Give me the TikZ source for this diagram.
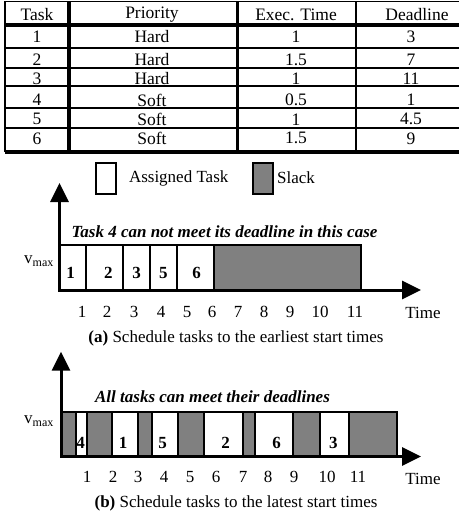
\documentclass[tikz,border=0pt]{standalone}
\usepackage{fontspec}
\setmainfont{Liberation Serif}
\usetikzlibrary{arrows.meta}
\definecolor{slackgray}{RGB}{128,128,128}
\begin{document}
\begin{tikzpicture}[x=1pt,y=-1pt,
  every node/.style={inner sep=0pt, font=\fontsize{17}{20}\selectfont},
  tline/.style={line width=2.2pt},
  tthick/.style={line width=3.8pt},
  taskbox/.style={draw=black, fill=white, line width=2pt},
  slackbox/.style={draw=black, fill=slackgray, line width=2pt},
  axes/.style={line width=3pt, {Triangle[width=18pt,length=19pt]}-{Triangle[width=18pt,length=19pt]}},
  num/.style={font=\fontsize{17}{20}\selectfont\bfseries},
  cell/.style={font=\fontsize{17.5}{20}\selectfont},
  note/.style={font=\fontsize{17}{20}\selectfont\bfseries\itshape},
]
\useasboundingbox (0,0) rectangle (458,514);

% ---------------- table ----------------
\draw[line width=1.6pt] (460,1.5) -- (5,1.5) -- (5,152);
\draw[tthick] (5,24.7) -- (460,24.7);
\foreach \yy in {47.8,68,86,107.8,128.3} \draw[tline] (5,\yy) -- (460,\yy);
\draw[tthick] (5,152) -- (460,152);
\draw[tthick] (68.7,1.5) -- (68.7,152);
\draw[tthick] (237.5,1.5) -- (237.5,152);
\draw[line width=2.5pt] (356,1.5) -- (356,152);

\node[cell] (h1) at (37,15) {Task};
\node[cell] (h2) at (152,15) {Priority};
\node[cell] (h3) at (296,15) {Exec. Time};
\node[cell] (h4) at (417,15) {Deadline};
\foreach \t/\p/\e/\d/\yy in {1/Hard/1/3/37, 2/Hard/1.5/7/59.5, 3/Hard/1/11/78.3, 4/Soft/0.5/1/100, 5/Soft/1/4.5/119.3, 6/Soft/1.5/9/138.3}{
  \node[cell] (r\t a) at (37,\yy) {\t};
  \node[cell] (r\t b) at (152,\yy) {\p};
  \node[cell] (r\t c) at (296,\yy) {\e};
  \node[cell] (r\t d) at (411,\yy) {\d};
}

% ---------------- legend ----------------
\node[taskbox, minimum width=20pt, minimum height=31pt, anchor=north west] (legT) at (95,162) {};
\node (legTt) at (178.7,178) {Assigned Task};
\node[slackbox, minimum width=20pt, minimum height=31pt, anchor=north west] (legS) at (252,162) {};
\node (legSt) at (296,178) {Slack};

% ---------------- plot (a) ----------------
\draw[taskbox] (60,245) rectangle (85.7,289.5);
\draw[taskbox] (85.7,245) rectangle (122.7,289.5);
\draw[taskbox] (122.7,245) rectangle (150,289.5);
\draw[taskbox] (150,245) rectangle (177,289.5);
\draw[taskbox] (177,245) rectangle (214,289.5);
\draw[slackbox] (214,245) rectangle (360.7,289.5);
\node[num] (a1) at (70.7,273) {1};
\node[num] (a2) at (108.3,273) {2};
\node[num] (a3) at (136.7,273) {3};
\node[num] (a5) at (163.3,273) {5};
\node[num] (a6) at (196.7,273) {6};

\coordinate (ya) at (59.5,183);
\coordinate (oa) at (59.5,290);
\coordinate (xa) at (421,290);
\draw[axes] (ya) -- (oa) -- (xa);

\node[anchor=base west] (vmaxa) at (24,263) {v\raisebox{-3.5pt}{\fontsize{12}{12}\selectfont max}};
\node[note] (notea) at (224.5,232) {Task 4 can not meet its deadline in this case};
\foreach \n/\xx in {1/82,2/107,3/134,4/161,5/187,6/212,7/238,8/264,9/290,10/320,11/355}
  \node (ta\n) at (\xx,312) {\n};
\node (timea) at (423,313) {Time};
\node (capa) at (236,338) {{\bfseries (a)} Schedule tasks to the earliest start times};

% ---------------- plot (b) ----------------
\draw[slackbox] (62,411.5) rectangle (76,456);
\draw[taskbox]  (76,411.5) rectangle (87,456);
\draw[slackbox] (87,411.5) rectangle (111.7,456);
\draw[taskbox]  (111.7,411.5) rectangle (138,456);
\draw[slackbox] (138,411.5) rectangle (151.7,456);
\draw[taskbox]  (151.7,411.5) rectangle (178,456);
\draw[slackbox] (178,411.5) rectangle (204,456);
\draw[taskbox]  (204,411.5) rectangle (242.7,456);
\draw[slackbox] (242.7,411.5) rectangle (255,456);
\draw[taskbox]  (255,411.5) rectangle (293,456);
\draw[slackbox] (293,411.5) rectangle (320,456);
\draw[taskbox]  (320,411.5) rectangle (349,456);
\draw[slackbox] (349,411.5) rectangle (396.7,456);
\node[num] (b4) at (80.7,442.7) {4};
\node[num] (b1) at (123,442.7) {1};
\node[num] (b5) at (162.7,442.7) {5};
\node[num] (b2) at (225.7,442.7) {2};
\node[num] (b6) at (276.7,442.7) {6};
\node[num] (b3) at (333.3,442.7) {3};

\coordinate (yb) at (61,351.7);
\coordinate (ob) at (61,456.5);
\coordinate (xb) at (421,456.5);
\draw[axes] (yb) -- (ob) -- (xb);

\node[anchor=base west] (vmaxb) at (24,423) {v\raisebox{-3.5pt}{\fontsize{12}{12}\selectfont max}};
\node[note] (noteb) at (212.5,397) {All tasks can meet their deadlines};
\foreach \n/\xx in {1/87,2/113,3/138,4/164,5/190,6/216,7/243,8/268,9/294,10/327,11/358}
  \node (tb\n) at (\xx,477) {\n};
\node (timeb) at (423,479) {Time};
\node (capb) at (236,503) {{\bfseries (b)} Schedule tasks to the latest start times};
\end{tikzpicture}
\end{document}
